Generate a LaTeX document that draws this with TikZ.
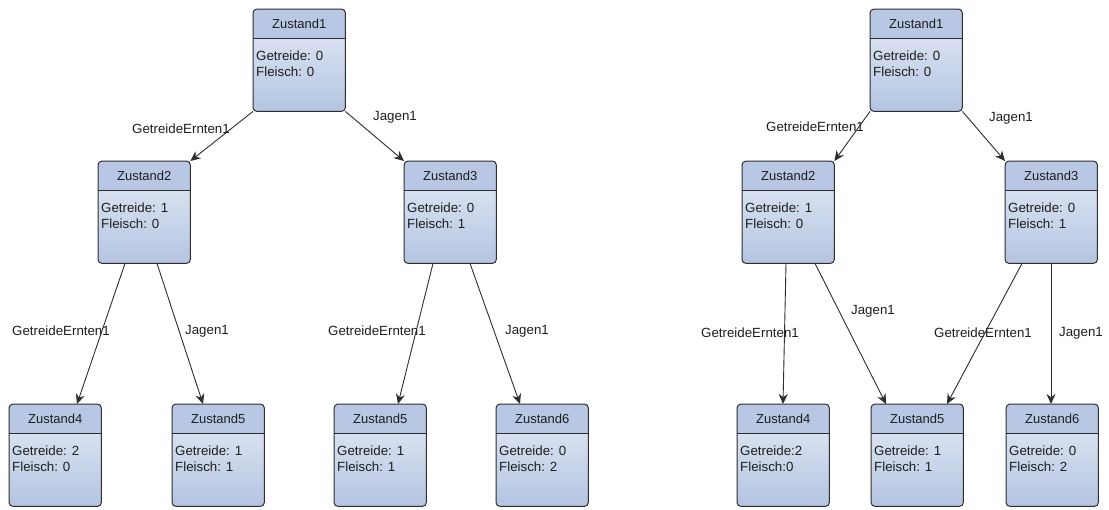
\documentclass[tikz,border=0pt]{standalone}
\usepackage{fontspec}
\setmainfont{Liberation Sans}
\usetikzlibrary{arrows.meta,calc}
\definecolor{hdr}{HTML}{B8C8E4}
\definecolor{bodytop}{HTML}{E6ECF6}
\definecolor{bodybot}{HTML}{B3C4E1}
\definecolor{edgecol}{HTML}{2E2E2E}
\definecolor{txt}{HTML}{1E1E1E}
\tikzset{
  box/.style={rectangle, draw=none, minimum width=92pt, minimum height=102pt, inner sep=0pt,
    anchor=north west, top color=bodytop, bottom color=bodybot, rounded corners=4pt},
  ttl/.style={inner sep=0pt, anchor=base, text=txt, font=\fontsize{13}{15}\selectfont},
  bdy/.style={inner sep=0pt, anchor=base west, text=txt, font=\fontsize{13.3}{15}\selectfont},
  lbl/.style={inner sep=0pt, text=txt, font=\fontsize{13.3}{15}\selectfont},
  conn/.style={draw=edgecol, line width=0.9pt, -{Stealth[length=10pt,width=9pt]}},
}
\newcommand{\statebox}[6]{%
  \node[box] (#1) at (#2,#3) {};
  \begin{scope}
    \clip[rounded corners=4pt] (#1.north west) rectangle (#1.south east);
    \fill[hdr] (#1.north west) rectangle ($(#1.north east)+(0,29)$);
  \end{scope}
  \draw[edgecol, line width=1pt, rounded corners=4pt] (#1.north west) rectangle (#1.south east);
  \draw[edgecol, line width=0.8pt] ($(#1.north west)+(0,29)$) -- ($(#1.north east)+(0,29)$);
  \node[ttl] (#1t) at ($(#1.north)+(0,19)$) {#4};
  \node[bdy] (#1a) at ($(#1.north west)+(3,51)$) {#5};
  \node[bdy] (#1b) at ($(#1.north west)+(3,67)$) {#6};
}
\begin{document}
\begin{tikzpicture}[x=1pt,y=-1pt]
\useasboundingbox[fill=white] (0,0) rectangle (1109,509);
% left tree
\statebox{A1}{253}{9}{Zustand1}{Getreide: 0}{Fleisch: 0}
\statebox{A2}{98}{161}{Zustand2}{Getreide: 1}{Fleisch: 0}
\statebox{A3}{404}{161}{Zustand3}{Getreide: 0}{Fleisch: 1}
\statebox{A4}{9}{404}{Zustand4}{Getreide: 2}{Fleisch: 0}
\statebox{A5}{172}{404}{Zustand5}{Getreide: 1}{Fleisch: 1}
\statebox{A6}{334}{404}{Zustand5}{Getreide: 1}{Fleisch: 1}
\statebox{A7}{496}{404}{Zustand6}{Getreide: 0}{Fleisch: 2}
% right tree
\statebox{B1}{870}{9}{Zustand1}{Getreide: 0}{Fleisch: 0}
\statebox{B2}{742}{161}{Zustand2}{Getreide: 1}{Fleisch: 0}
\statebox{B3}{1005}{161}{Zustand3}{Getreide: 0}{Fleisch: 1}
\statebox{B4}{737}{404}{Zustand4}{Getreide:2}{Fleisch:0}
\statebox{B5}{871}{404}{Zustand5}{Getreide: 1}{Fleisch: 1}
\statebox{B6}{1006}{404}{Zustand6}{Getreide: 0}{Fleisch: 2}
% left connectors
\draw[conn] (A1.south west) -- (A2.north east);
\draw[conn] (A1.south east) -- (A3.north west);
\draw[conn] ([xshift=27pt]A2.south west) -- ([xshift=68pt]A4.north west);
\draw[conn] ([xshift=59pt]A2.south west) -- ([xshift=31pt]A5.north west);
\draw[conn] ([xshift=29pt]A3.south west) -- ([xshift=64pt]A6.north west);
\draw[conn] ([xshift=66pt]A3.south west) -- ([xshift=24pt]A7.north west);
% right connectors
\draw[conn] (B1.south west) -- (B2.north east);
\draw[conn] (B1.south east) -- (B3.north west);
\draw[conn] ([xshift=44pt]B2.south west) -- ([xshift=46pt]B4.north west);
\draw[conn] ([xshift=73pt]B2.south west) -- ([xshift=15pt]B5.north west);
\draw[conn] ([xshift=17pt]B3.south west) -- ([xshift=76pt]B5.north west);
\draw[conn] ([xshift=46pt]B3.south west) -- ([xshift=45pt]B6.north west);
% labels
\node[lbl] (la1) at (181,129) {GetreideErnten1};
\node[lbl] (la2) at (395,117) {Jagen1};
\node[lbl] (la3) at (61,331) {GetreideErnten1};
\node[lbl] (la4) at (207,331) {Jagen1};
\node[lbl] (la5) at (377,331) {GetreideErnten1};
\node[lbl] (la6) at (527,331) {Jagen1};
\node[lbl] (lb1) at (815,127) {GetreideErnten1};
\node[lbl] (lb2) at (1011,118) {Jagen1};
\node[lbl] (lb3) at (750,333) {GetreideErnten1};
\node[lbl] (lb4) at (873,311) {Jagen1};
\node[lbl] (lb5) at (983,333) {GetreideErnten1};
\node[lbl] (lb6) at (1081,333) {Jagen1};
\end{tikzpicture}
\end{document}
